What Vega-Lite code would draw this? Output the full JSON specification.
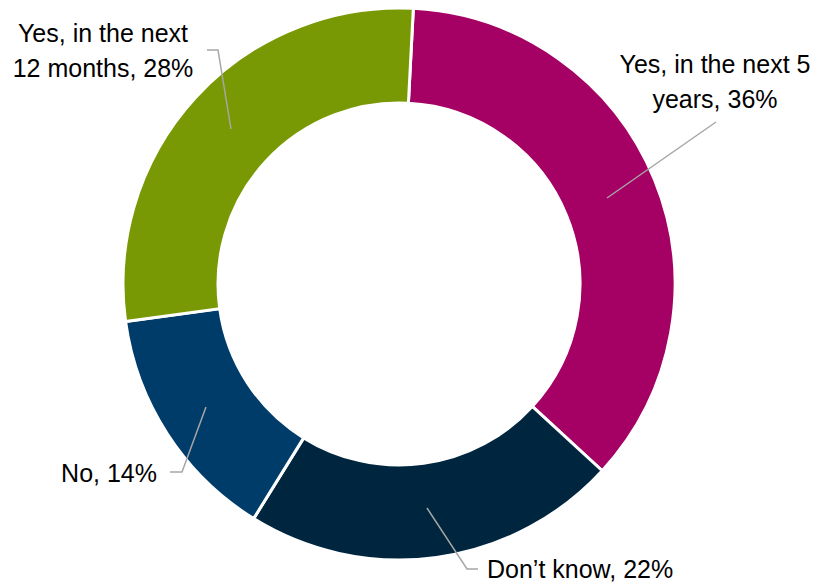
{
  "$schema": "https://vega.github.io/schema/vega-lite/v6.json",
  "width": 798,
  "height": 568,
  "padding": {"left": 0, "top": 0, "right": 19, "bottom": 20},
  "autosize": {"type": "none"},
  "background": "white",
  "config": {"view": {"stroke": null}},
  "datasets": {
    "slices": [
      {"category": "Yes, in the next 5 years", "value": 36, "order": 1},
      {"category": "Don't know", "value": 22, "order": 2},
      {"category": "No", "value": 14, "order": 3},
      {"category": "Yes, in the next 12 months", "value": 28, "order": 4}
    ],
    "labels": [
      {"text": "Yes, in the next 5\nyears, 36%", "x": 316, "y": -211, "align": "center"},
      {"text": "Yes, in the next\n12 months, 28%", "x": -296, "y": -242, "align": "center"},
      {"text": "No, 14%", "x": -242, "y": 198, "align": "right"},
      {"text": "Don’t know, 22%", "x": 88, "y": 294, "align": "left"}
    ],
    "leaders": [
      {"id": "a", "seq": 1, "x": 317, "y": -162},
      {"id": "a", "seq": 2, "x": 208, "y": -86},
      {"id": "b", "seq": 1, "x": 28, "y": 224},
      {"id": "b", "seq": 2, "x": 68, "y": 285},
      {"id": "b", "seq": 3, "x": 79, "y": 285},
      {"id": "c", "seq": 1, "x": -193, "y": 123},
      {"id": "c", "seq": 2, "x": -217, "y": 188},
      {"id": "c", "seq": 3, "x": -229, "y": 188},
      {"id": "d", "seq": 1, "x": -192, "y": -234},
      {"id": "d", "seq": 2, "x": -181, "y": -234},
      {"id": "d", "seq": 3, "x": -168, "y": -155}
    ]
  },
  "layer": [
    {
      "data": {"name": "slices"},
      "mark": {"type": "arc", "outerRadius": 276, "innerRadius": 181, "stroke": "white", "strokeWidth": 3},
      "encoding": {
        "theta": {"field": "value", "type": "quantitative", "stack": true, "scale": {"range": [0.052, 6.3352]}},
        "order": {"field": "order", "type": "quantitative"},
        "color": {
          "field": "category",
          "type": "nominal",
          "legend": null,
          "scale": {
            "domain": ["Yes, in the next 5 years", "Don't know", "No", "Yes, in the next 12 months"],
            "range": ["#A50064", "#00263F", "#003C69", "#789904"]
          }
        }
      }
    },
    {
      "data": {"name": "leaders"},
      "mark": {"type": "line", "color": "#A6A6A6", "strokeWidth": 1.5},
      "encoding": {
        "x": {"field": "x", "type": "quantitative", "axis": null, "scale": {"domain": [-399, 399], "nice": false, "zero": false}},
        "y": {"field": "y", "type": "quantitative", "axis": null, "scale": {"domain": [-284, 284], "nice": false, "zero": false, "reverse": true}},
        "detail": {"field": "id", "type": "nominal"},
        "order": {"field": "seq", "type": "quantitative"}
      }
    },
    {
      "data": {"name": "labels"},
      "transform": [{"filter": "datum.align == 'center'"}],
      "mark": {"type": "text", "font": "Liberation Sans", "fontSize": 25, "color": "#000000", "baseline": "alphabetic", "align": "center", "lineBreak": "\n", "lineHeight": 35},
      "encoding": {
        "x": {"field": "x", "type": "quantitative"},
        "y": {"field": "y", "type": "quantitative"},
        "text": {"field": "text", "type": "nominal"}
      }
    },
    {
      "data": {"name": "labels"},
      "transform": [{"filter": "datum.align == 'right'"}],
      "mark": {"type": "text", "font": "Liberation Sans", "fontSize": 25, "color": "#000000", "baseline": "alphabetic", "align": "right"},
      "encoding": {
        "x": {"field": "x", "type": "quantitative"},
        "y": {"field": "y", "type": "quantitative"},
        "text": {"field": "text", "type": "nominal"}
      }
    },
    {
      "data": {"name": "labels"},
      "transform": [{"filter": "datum.align == 'left'"}],
      "mark": {"type": "text", "font": "Liberation Sans", "fontSize": 25, "color": "#000000", "baseline": "alphabetic", "align": "left"},
      "encoding": {
        "x": {"field": "x", "type": "quantitative"},
        "y": {"field": "y", "type": "quantitative"},
        "text": {"field": "text", "type": "nominal"}
      }
    }
  ]
}
